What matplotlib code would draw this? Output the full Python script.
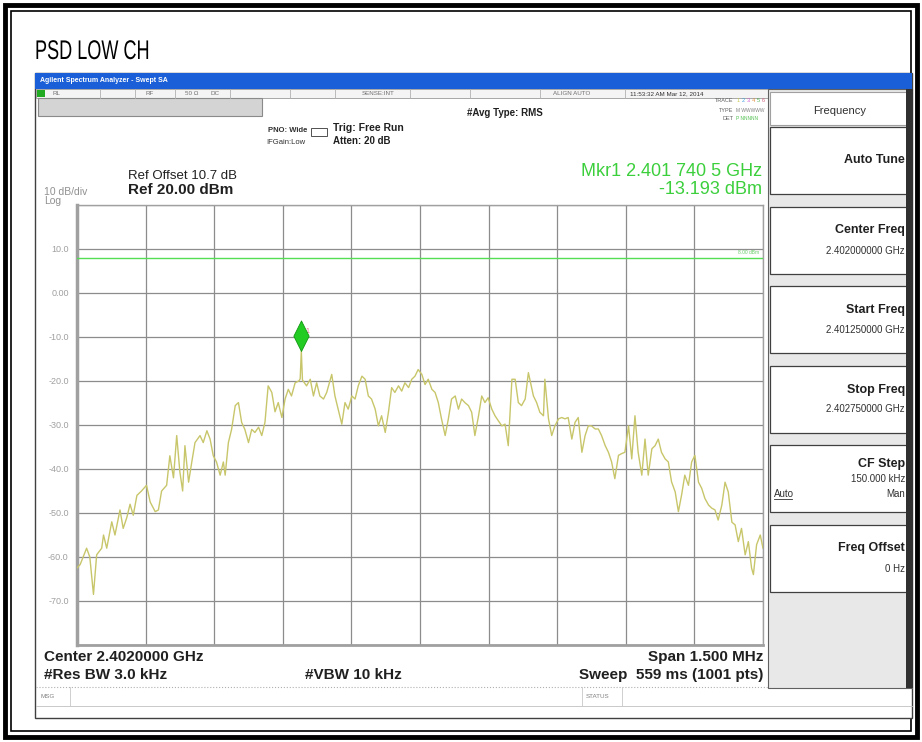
import matplotlib.pyplot as plt
from matplotlib.patches import Rectangle, PathPatch
from matplotlib.path import Path
from matplotlib.textpath import TextPath
from matplotlib.font_manager import FontProperties
from matplotlib.transforms import Affine2D

# sweep settings
start_ghz = 2.40125
span_khz = 1500
ref_level = 20.0
display_line = 8.0
mkr_khz = 490.5
mkr_dbm = -13.193

# trace (offset from start freq, kHz / dBm)
freq_khz = [0, 7, 21, 28, 36, 43, 54, 58, 65, 76, 83, 94, 101, 109, 116, 123, 131, 141,
            152, 160, 171, 178, 185, 196, 203, 211, 218, 225, 231, 236, 244, 251, 258,
            269, 276, 284, 291, 298, 305, 313, 320, 324, 331, 338, 346, 353, 360, 367,
            375, 382, 389, 397, 404, 411, 418, 426, 433, 440, 448, 455, 462, 469, 477,
            485, 488, 490.5, 493,
            502, 510, 517, 524, 531, 539, 546, 557, 564, 571, 579, 586, 593, 601, 608,
            615, 623, 630, 637, 644, 652, 659, 666, 674, 681, 688, 695, 703, 710, 717,
            725, 732, 739, 746, 754, 761, 768, 776, 783, 790, 797, 805, 812, 819, 827,
            834, 841, 848, 856, 863, 870, 878, 885, 892, 899, 907, 914, 921, 929, 936,
            943, 951, 958, 965, 972, 980, 987,
            998, 1005, 1012, 1020, 1023, 1031, 1038, 1045, 1053, 1060, 1067, 1074, 1082,
            1089, 1096, 1104, 1111, 1118, 1125, 1133, 1140, 1147, 1155, 1162, 1169, 1176,
            1184, 1191, 1198, 1206, 1213, 1220, 1227, 1235, 1242, 1249, 1257, 1264, 1271,
            1278, 1286, 1293, 1300, 1308, 1315, 1322, 1329, 1337, 1344, 1351, 1359, 1366,
            1373, 1381, 1388, 1395, 1402, 1410, 1417, 1424, 1432, 1439, 1446, 1453, 1461,
            1468, 1475, 1479, 1486, 1494, 1500]
level_dbm = [-62.5, -61.7, -58.0, -60.0, -68.5, -59.5, -58.0, -55.0, -58.0, -52.0, -55.0,
             -49.3, -53.5, -51.0, -48.0, -50.5, -46.0, -45.0, -43.7, -47.5, -49.7, -49.3,
             -45.0, -43.7, -37.0, -42.0, -32.4, -40.7, -45.0, -34.7, -43.0, -38.4, -34.0,
             -32.4, -34.0, -31.3, -33.2, -37.0, -38.4, -41.4, -38.4, -41.4, -34.0, -31.0,
             -25.6, -24.9, -29.4, -31.0, -34.0, -31.0, -31.7, -30.5, -32.4, -29.4, -21.1,
             -22.6, -27.0, -24.9, -28.3, -24.1, -21.9, -23.4, -20.4,
             -20.0, -19.5, -13.193, -19.8,
             -21.1, -19.6, -23.4, -20.4, -23.4, -24.1, -22.6, -18.5, -23.4, -26.4, -29.8,
             -24.9, -26.4, -23.4, -24.1, -21.1, -18.9, -19.6, -23.4, -24.1, -26.4, -30.2,
             -27.9, -31.7, -27.1, -21.5, -22.6, -21.1, -22.3, -20.4, -21.5, -19.6, -18.9,
             -17.4, -18.5, -20.8, -19.6, -21.9, -22.6, -24.9, -28.6, -32.4, -28.6, -24.1,
             -23.4, -26.4, -24.1, -24.9, -25.6, -27.1, -32.4, -27.9, -23.4, -24.9, -23.8,
             -26.4, -27.9, -29.0, -30.2, -29.8, -34.7, -19.6, -19.6, -24.9, -25.6, -24.1,
             -18.1,
             -23.4, -24.9, -27.1, -27.9, -19.6, -28.6, -32.4, -30.2, -28.6, -28.3, -28.6,
             -28.3, -33.2, -29.4, -28.3, -36.2, -32.4, -30.2, -30.2, -30.9, -30.9, -32.4,
             -34.7, -36.2, -38.4, -42.2, -36.9, -36.5, -36.2, -30.2, -37.7, -27.9, -36.2,
             -41.4, -33.2, -41.4, -35.4, -34.7, -33.2, -36.2, -37.7, -38.4, -42.9, -45.2,
             -49.7, -45.9, -41.4, -43.7, -38.4, -36.9, -43.0, -44.4, -46.7, -48.2, -48.9,
             -49.3, -51.6, -48.2, -43.0, -45.2, -52.1, -52.7, -56.5, -53.5, -59.5, -56.5,
             -62.5, -64.0, -57.2, -55.0, -58.0]

y_labels = ["", "-70.0", "-60.0", "-50.0", "-40.0", "-30.0", "-20.0", "-10.0", "0.00", "10.0", ""]

softkeys = [("Auto Tune", ""), ("Center Freq", "2.402000000 GHz"), ("Start Freq", "2.401250000 GHz"),
            ("Stop Freq", "2.402750000 GHz"), ("CF Step", "150.000 kHz"), ("Freq Offset", "0 Hz")]

plt.rcParams['font.family'] = ['Liberation Sans', 'DejaVu Sans']

W, H = 922, 742
fig = plt.figure(figsize=(W / 100, H / 100), dpi=100)
bg = fig.add_axes([0, 0, 1, 1])
bg.set_xlim(0, W)
bg.set_ylim(H, 0)
bg.axis('off')


def box(x0, y0, x1, y1, **kw):
    bg.add_patch(Rectangle((x0, y0), x1 - x0, y1 - y0, **kw))


def txt(x, y, s, **kw):
    kw.setdefault('va', 'center')
    bg.text(x, y, s, **kw)


# page frame
box(5, 5, 917, 737, fill=False, ec='black', lw=3.5)
box(11, 11, 911, 731, fill=False, ec='black', lw=1.2)

# title is a narrow face in the original, so squeeze the glyphs sideways
title = TextPath((0, 0), "PSD LOW CH", size=27, prop=FontProperties(family='Liberation Sans'))
squeeze = Affine2D().scale(0.67, -1).translate(35, 59)
bg.add_patch(PathPatch(squeeze.transform_path(title), fc='black', ec='none'))

# analyzer window
box(35, 73, 912, 718, fc='white', ec='#404040', lw=1)
box(35, 73, 912, 89, fc='#1a5fd8', ec='none')
txt(40, 81, "Agilent Spectrum Analyzer - Swept SA", fontsize=5, color='white', weight='bold')
box(36, 89, 768, 98, fc='#f4f4f4', ec='#9a9a9a', lw=0.6)
box(37, 90, 45, 97, fc='#22aa22', ec='none')
for xd in [100, 135, 175, 230, 290, 335, 410, 470, 540, 625]:
    bg.plot([xd, xd], [89, 98], color='#b0b0b0', lw=0.6)
for xs, s in [(52, "RL"), (145, "RF"), (185, "50 \u03a9"), (210, "DC"), (362, "SENSE:INT"),
              (553, "ALIGN AUTO"), (630, "11:53:32 AM Mar 12, 2014")]:
    txt(xs, 93.5, s, fontsize=4.5, color='#707070' if xs < 600 else '#303030')
box(38, 98, 262, 116, fc='#d4d4d4', ec='#8a8a8a', lw=0.8)

txt(268, 131, "PNO: Wide", fontsize=5.5, weight='bold', color='#303030')
txt(266, 143, "IFGain:Low", fontsize=5.5, color='#303030')
box(311, 128, 327, 136, fill=False, ec='#505050', lw=0.7)
txt(333, 128, "Trig: Free Run", fontsize=7.5, weight='bold', color='#202020')
txt(333, 141, "Atten: 20 dB", fontsize=7, weight='bold', color='#202020')
txt(467, 113, "#Avg Type: RMS", fontsize=7, weight='bold', color='#202020')
txt(733, 101, "TRACE", fontsize=4, color='#606060', ha='right')
for i, c in enumerate(['#c8c850', '#40a0e0', '#d060d0', '#e09040', '#50b050', '#d06080']):
    txt(737 + i * 5, 101, str(i + 1), fontsize=4, color=c)
txt(733, 110, "TYPE", fontsize=4, color='#606060', ha='right')
txt(736, 110, "M WWWWW", fontsize=3.5, color='#808080')
txt(733, 119, "DET", fontsize=4, color='#606060', ha='right')
txt(736, 119, "P NNNNN", fontsize=3.5, color='#50c050')

txt(128, 176, "Ref Offset 10.7 dB", fontsize=9.5, color='#202020')
txt(128, 190, "Ref 20.00 dBm", fontsize=11, weight='bold', color='#202020')
txt(44, 192, "10 dB/div", fontsize=7.5, color='#909090')
txt(44, 201, "Log", fontsize=7.5, color='#909090')
txt(762, 171, "Mkr1 2.401 740 5 GHz", fontsize=13, color='#3ccf3c', ha='right')
txt(762, 189, "-13.193 dBm", fontsize=13, color='#3ccf3c', ha='right')

txt(44, 657, "Center 2.4020000 GHz", fontsize=11, weight='bold', color='#202020')
txt(44, 675, "#Res BW 3.0 kHz", fontsize=11, weight='bold', color='#202020')
txt(305, 675, "#VBW 10 kHz", fontsize=11, weight='bold', color='#202020')
txt(763, 657, "Span 1.500 MHz", fontsize=11, weight='bold', color='#202020', ha='right')
txt(763, 675, "Sweep  559 ms (1001 pts)", fontsize=11, weight='bold', color='#202020', ha='right')

bg.plot([36, 768], [687, 687], color='#b0b0b0', lw=0.8, ls=':')
bg.plot([36, 912], [706, 706], color='#c0c0c0', lw=0.6)
bg.plot([70, 70], [687, 706], color='#c8c8c8', lw=0.6)
bg.plot([582, 582], [687, 706], color='#c8c8c8', lw=0.6)
bg.plot([622, 622], [687, 706], color='#c8c8c8', lw=0.6)
txt(40, 697, "MSG", fontsize=4.5, color='#808080')
txt(586, 697, "STATUS", fontsize=4.5, color='#808080')

# softkey panel
box(768, 89, 912, 688, fc='#e8e8e8', ec='#606060', lw=0.8)
box(770, 92, 910, 125, fc='white', ec='#a0a0a0', lw=0.8)
txt(840, 111, "Frequency", fontsize=8, color='#303030', ha='center')
for i, (name, val) in enumerate(softkeys):
    top = 127 + i * 79.5
    box(770, top, 910, top + 67, fc='white', ec='#404040', lw=0.9)
    if val == "":
        txt(905, top + 33, name, fontsize=9, weight='bold', color='#202020', ha='right')
    elif name == "CF Step":
        txt(905, top + 19, name, fontsize=9, weight='bold', color='#202020', ha='right')
        txt(905, top + 34, val, fontsize=7, color='#303030', ha='right')
        txt(905, top + 49, "Man", fontsize=7, color='#303030', ha='right')
        txt(774, top + 49, "Auto", fontsize=7, color='#303030')
        bg.plot([774, 792], [top + 54, top + 54], color='#303030', lw=0.6)
    else:
        txt(905, top + 24, name, fontsize=9, weight='bold', color='#202020', ha='right')
        txt(905, top + 44, val, fontsize=7, color='#303030', ha='right')
box(906, 89, 913, 688, fc='#303030', ec='none')

# trace window
x0, y0, x1, y1 = 77, 205, 763, 645
ax = fig.add_axes([x0 / W, 1 - y1 / H, (x1 - x0) / W, (y1 - y0) / H])
ax.set_zorder(2)
ax.set_facecolor('white')
ax.set_xlim(0, span_khz)
ax.set_ylim(ref_level - 100, ref_level)
ax.set_xticks([span_khz * i / 10 for i in range(11)])
ax.set_yticks(range(-80, 21, 10))
ax.set_yticklabels(y_labels)
ax.set_xticklabels([])
ax.tick_params(length=0, pad=6, labelsize=6.5, labelcolor='#a0a0a0')
ax.grid(color='#8c8c8c', lw=0.9)
for sp in ax.spines.values():
    sp.set_color('#a0a0a0')
    sp.set_linewidth(1)
ax.spines['left'].set_linewidth(2.5)
ax.spines['bottom'].set_linewidth(2)

ax.axhline(display_line, color='#55dd55', lw=1, zorder=3)
ax.text(span_khz - 8, display_line + 0.6, "8.00 dBm", fontsize=3.5, color='#66cc66', ha='right', va='bottom')
ax.plot(freq_khz, level_dbm, color='#c8c66a', lw=1, zorder=4)

# marker diamond sits on top of the marked point
diamond = Path([(0, 0), (-0.55, 1.1), (0, 2.2), (0.55, 1.1), (0, 0)],
               [Path.MOVETO, Path.LINETO, Path.LINETO, Path.LINETO, Path.CLOSEPOLY])
ax.plot([mkr_khz], [mkr_dbm], marker=diamond, ms=44, color='#22cc22', mec='#119911', mew=0.6, zorder=5)
ax.text(mkr_khz + 10, mkr_dbm + 4.2, "1", fontsize=5, color='#e07090')

fig.savefig("out.png", dpi=100)
